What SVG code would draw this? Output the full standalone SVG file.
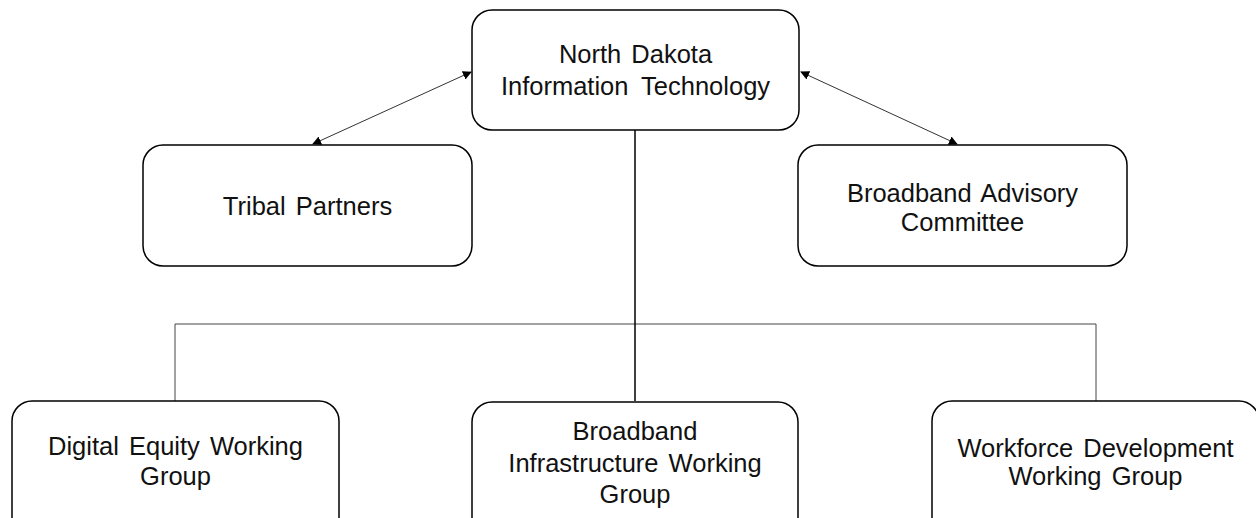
<svg xmlns="http://www.w3.org/2000/svg" width="1256" height="518" viewBox="0 0 1256 518">
<defs>
<style>
.box{fill:#fff;stroke:#000;stroke-width:1.5}
.t{font-family:"Liberation Sans",Arial,sans-serif;font-size:25.5px;fill:#111;text-anchor:middle;word-spacing:3px}
.thin{stroke:#444;stroke-width:1;fill:none}
.main{stroke:#000;stroke-width:1.5;fill:none}
.arr{stroke:#333;stroke-width:1;fill:none;marker-start:url(#ah);marker-end:url(#ah)}
</style>
<marker id="ah" viewBox="0 0 10 10" refX="9" refY="5" markerWidth="9" markerHeight="9" markerUnits="userSpaceOnUse" orient="auto-start-reverse">
<path d="M0,0 L10,5 L0,10 z" fill="#000"/>
</marker>
</defs>
<g id="connectors">
<path class="thin" d="M175,401 V324 H1096 V401"/>
<path class="main" d="M635,130 V401"/>
<path class="arr" d="M313,144 L471,72"/>
<path class="arr" d="M801,72 L957,144"/>
</g>
<g id="nd-it">
<rect class="box" x="472" y="10" width="327" height="120" rx="20"/>
<text class="t" x="635.5" y="63">North Dakota</text>
<text class="t" x="635.5" y="95" style="word-spacing:6px">Information Technology</text>
</g>
<g id="tribal">
<rect class="box" x="143" y="145" width="329" height="121" rx="20"/>
<text class="t" x="307.5" y="215">Tribal Partners</text>
</g>
<g id="bac">
<rect class="box" x="798" y="145" width="329" height="121" rx="20"/>
<text class="t" x="962.5" y="202">Broadband Advisory</text>
<text class="t" x="962.5" y="231">Committee</text>
</g>
<g id="digital">
<rect class="box" x="12" y="401" width="327" height="140" rx="20"/>
<text class="t" x="175.5" y="455">Digital Equity Working</text>
<text class="t" x="175.5" y="485">Group</text>
</g>
<g id="infra">
<rect class="box" x="472" y="402" width="326" height="140" rx="20"/>
<text class="t" x="635" y="440">Broadband</text>
<text class="t" x="635" y="472">Infrastructure Working</text>
<text class="t" x="635" y="503">Group</text>
</g>
<g id="workforce">
<rect class="box" x="932" y="401" width="327" height="140" rx="20"/>
<text class="t" x="1095.5" y="457">Workforce Development</text>
<text class="t" x="1095.5" y="485">Working Group</text>
</g>
</svg>
